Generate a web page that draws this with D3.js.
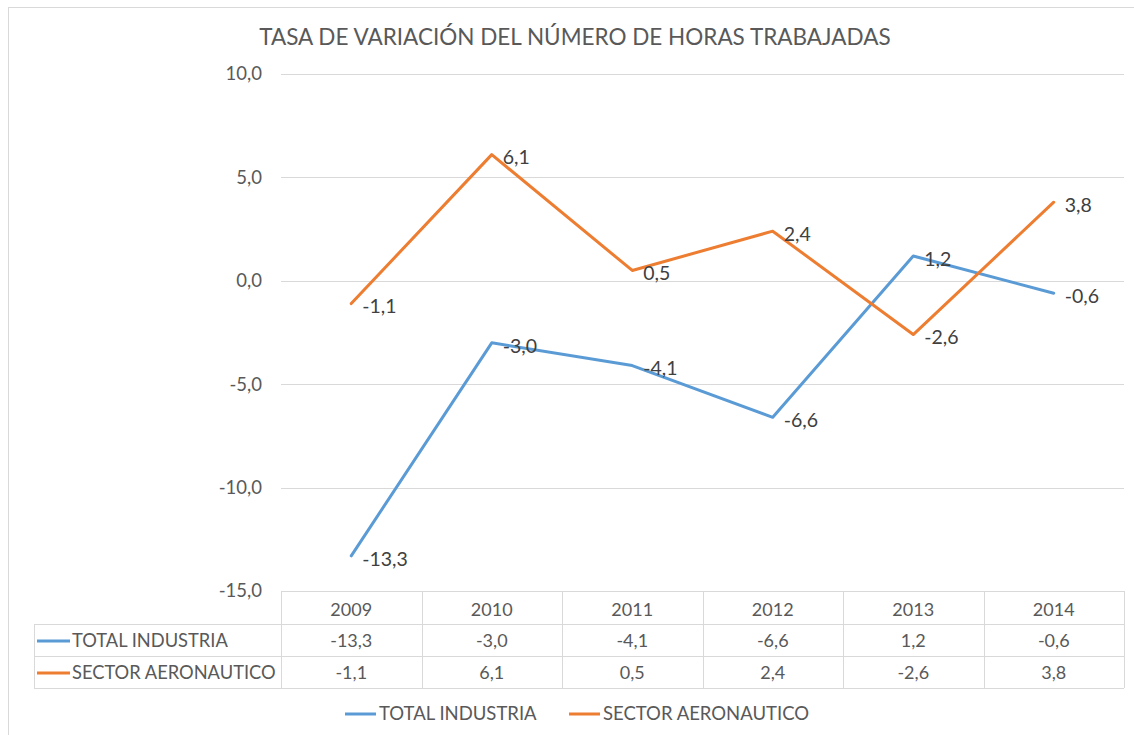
<!DOCTYPE html>
<html>
<head>
<meta charset="utf-8">
<script src="https://cdn.jsdelivr.net/npm/d3@7"></script>
<style>
  body { margin: 0; background: #fff; }
  text { font-family: Lato, "Open Sans", sans-serif; fill: #595959; }
</style>
</head>
<body>
<div id="chart"></div>
<script>
// data
const years = ["2009", "2010", "2011", "2012", "2013", "2014"];
const totalIndustria = [-13.3, -3.0, -4.1, -6.6, 1.2, -0.6];
const sectorAeronautico = [-1.1, 6.1, 0.5, 2.4, -2.6, 3.8];
const seriesNames = ["TOTAL INDUSTRIA", "SECTOR AERONAUTICO"];
const colors = ["#5b9bd5", "#ed7d31"];
const yTicks = [-15, -10, -5, 0, 5, 10];

const width = 1134, height = 735;
const plotLeft = 281, plotRight = 1124, plotTop = 74, plotBottom = 591;

const fmt = v => v.toFixed(1).replace(".", ",");

const svg = d3.select("#chart")
    .append("svg")
    .attr("width", width)
    .attr("height", height);

// chart frame
svg.append("rect")
    .attr("x", 8.5).attr("y", 7.5)
    .attr("width", width + 20).attr("height", height + 20)
    .attr("fill", "none")
    .attr("stroke", "#d9d9d9");

svg.append("text")
    .attr("x", 575).attr("y", 45)
    .attr("text-anchor", "middle")
    .style("font-size", "22.5px")
    .text("TASA DE VARIACIÓN DEL NÚMERO DE HORAS TRABAJADAS");

const x = d3.scaleBand().domain(years).range([plotLeft, plotRight]);
const y = d3.scaleLinear().domain([-15, 10]).range([plotBottom, plotTop]);

// gridlines
svg.selectAll("line.grid")
    .data(yTicks)
    .enter()
    .append("line")
    .classed("grid", true)
    .attr("x1", plotLeft).attr("x2", plotRight)
    .attr("y1", d => Math.round(y(d)) + 0.5)
    .attr("y2", d => Math.round(y(d)) + 0.5)
    .attr("stroke", "#d9d9d9");

svg.selectAll("text.ytick")
    .data(yTicks)
    .enter()
    .append("text")
    .classed("ytick", true)
    .attr("x", 262)
    .attr("y", d => y(d))
    .attr("dy", "0.35em")
    .attr("text-anchor", "end")
    .style("font-size", "18.5px")
    .text(d => fmt(d));

// lines
const allSeries = [totalIndustria, sectorAeronautico];
const line = d3.line()
    .x((d, i) => x(years[i]) + x.bandwidth() / 2)
    .y(d => y(d));

allSeries.forEach((vals, s) => {
    svg.append("path")
        .datum(vals)
        .attr("d", line)
        .attr("fill", "none")
        .attr("stroke", colors[s])
        .attr("stroke-width", 3)
        .attr("stroke-linejoin", "round")
        .attr("stroke-linecap", "round");

    svg.selectAll("text.lbl" + s)
        .data(vals)
        .enter()
        .append("text")
        .attr("class", "lbl" + s)
        .attr("x", (d, i) => x(years[i]) + x.bandwidth() / 2 + 11)
        .attr("y", d => y(d) + 3)
        .attr("dy", "0.35em")
        .style("font-size", "19.5px")
        .style("fill", "#404040")
        .text(d => fmt(d));
});

// data table
const rowY = [591, 624, 656, 688];
const tableLeft = 34;
const g = svg.append("g").attr("stroke", "#d9d9d9").attr("fill", "none");
// horizontal lines
g.append("line").attr("x1", plotLeft).attr("x2", plotRight).attr("y1", rowY[0] + 0.5).attr("y2", rowY[0] + 0.5);
rowY.slice(1).forEach(ry => {
    g.append("line").attr("x1", tableLeft).attr("x2", plotRight).attr("y1", ry + 0.5).attr("y2", ry + 0.5);
});
// vertical lines
g.append("line").attr("x1", tableLeft + 0.5).attr("x2", tableLeft + 0.5).attr("y1", rowY[1]).attr("y2", rowY[3]);
years.forEach(yr => {
    const xv = Math.round(x(yr)) + 0.5;
    g.append("line").attr("x1", xv).attr("x2", xv).attr("y1", rowY[0]).attr("y2", rowY[3]);
});
g.append("line").attr("x1", plotRight + 0.5).attr("x2", plotRight + 0.5).attr("y1", rowY[0]).attr("y2", rowY[3]);

svg.selectAll("text.yr")
    .data(years)
    .enter()
    .append("text")
    .attr("x", d => x(d) + x.bandwidth() / 2)
    .attr("y", (rowY[0] + rowY[1]) / 2 + 2)
    .attr("dy", "0.35em")
    .attr("text-anchor", "middle")
    .style("font-size", "18px")
    .text(d => d);

allSeries.forEach((vals, s) => {
    const cy = (rowY[s + 1] + rowY[s + 2]) / 2 + 1;
    svg.append("line")
        .attr("x1", 37).attr("x2", 70)
        .attr("y1", cy).attr("y2", cy)
        .attr("stroke", colors[s])
        .attr("stroke-width", 3);
    svg.append("text")
        .attr("x", 72).attr("y", cy)
        .attr("dy", "0.35em")
        .style("font-size", "18.3px")
        .text(seriesNames[s]);
    svg.selectAll("text.cell" + s)
        .data(vals)
        .enter()
        .append("text")
        .attr("x", (d, i) => x(years[i]) + x.bandwidth() / 2)
        .attr("y", cy)
        .attr("dy", "0.35em")
        .attr("text-anchor", "middle")
        .style("font-size", "18px")
        .text(d => fmt(d));
});

// legend
const legendX = [345, 569];
seriesNames.forEach((name, s) => {
    svg.append("line")
        .attr("x1", legendX[s]).attr("x2", legendX[s] + 31)
        .attr("y1", 714).attr("y2", 714)
        .attr("stroke", colors[s])
        .attr("stroke-width", 3);
    svg.append("text")
        .attr("x", legendX[s] + 34).attr("y", 714)
        .attr("dy", "0.35em")
        .style("font-size", "18.5px")
        .text(name);
});
</script>
</body>
</html>
